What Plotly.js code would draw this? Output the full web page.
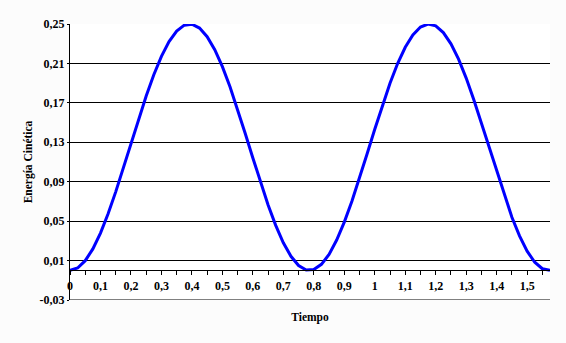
<!DOCTYPE html>
<html>
<head>
<meta charset="utf-8">
<script src="https://cdn.plot.ly/plotly-3.0.1.min.js"></script>
<style>html,body{margin:0;padding:0;background:#fcfcfc;}#chart{width:566px;height:343px;}</style>
</head>
<body>
<div id="chart"></div>
<script>
// Tiempo (s)
const tiempo = [0, 0.025, 0.05, 0.075, 0.1, 0.125, 0.15, 0.175, 0.2, 0.225, 0.25, 0.275, 0.3, 0.325, 0.35, 0.375,
  0.4, 0.425, 0.45, 0.475, 0.5, 0.525, 0.55, 0.575, 0.6, 0.625, 0.65, 0.675, 0.7, 0.725, 0.75, 0.775,
  0.8, 0.825, 0.85, 0.875, 0.9, 0.925, 0.95, 0.975, 1.0, 1.025, 1.05, 1.075, 1.1, 1.125, 1.15, 1.175,
  1.2, 1.225, 1.25, 1.275, 1.3, 1.325, 1.35, 1.375, 1.4, 1.425, 1.45, 1.475, 1.5, 1.525, 1.55, 1.575];
// Energía cinética
const energia = [0, 0.0025, 0.0099, 0.0218, 0.0379, 0.0575, 0.0797, 0.1038, 0.1287, 0.1534, 0.1770, 0.1986, 0.2172, 0.2321, 0.2428, 0.2488,
  0.2498, 0.2459, 0.2371, 0.2239, 0.2067, 0.1863, 0.1634, 0.1390, 0.1141, 0.0896, 0.0664, 0.0457, 0.0281, 0.0143, 0.0050, 0.0004,
  0.0009, 0.0062, 0.0163, 0.0308, 0.0490, 0.0702, 0.0936, 0.1183, 0.1432, 0.1674, 0.1899, 0.2099, 0.2264, 0.2389, 0.2469, 0.2500,
  0.2481, 0.2413, 0.2299, 0.2143, 0.1951, 0.1732, 0.1493, 0.1244, 0.0996, 0.0758, 0.0540, 0.0350, 0.0195, 0.0083, 0.0017, 0.0001];

const xTickVals = [0, 0.1, 0.2, 0.3, 0.4, 0.5, 0.6, 0.7, 0.8, 0.9, 1, 1.1, 1.2, 1.3, 1.4, 1.5];
const xTickText = ["0", "0,1", "0,2", "0,3", "0,4", "0,5", "0,6", "0,7", "0,8", "0,9", "1", "1,1", "1,2", "1,3", "1,4", "1,5"];
const yTickVals = [-0.03, 0.01, 0.05, 0.09, 0.13, 0.17, 0.21, 0.25];
const yTickText = ["-0,03", "0,01", "0,05", "0,09", "0,13", "0,17", "0,21", "0,25"];

const FAMILY = 'Liberation Serif, Times New Roman, serif';
const tickTxt = {family: FAMILY, size: 12, color: '#000000', weight: 'bold'};
const titleTxt = {family: FAMILY, size: 11.5, color: '#000000', weight: 'bold'};
const yMin = -0.03, yMax = 0.25;

const trace = {
  x: tiempo, y: energia, type: 'scatter', mode: 'lines',
  line: {color: '#0000ff', width: 3}, hoverinfo: 'skip'
};

const layout = {
  width: 566, height: 343,
  margin: {l: 70, r: 16, t: 24, b: 43},
  paper_bgcolor: '#fcfcfc', plot_bgcolor: '#ffffff',
  showlegend: false,
  font: tickTxt,
  xaxis: {
    range: [0, 1.575],
    anchor: 'free', position: (0 - yMin) / (yMax - yMin),
    showline: true, linecolor: '#000', linewidth: 1,
    showgrid: false, zeroline: false,
    tickmode: 'array', tickvals: xTickVals, ticktext: xTickText,
    ticks: 'outside', ticklen: 4, tickcolor: '#000', tickwidth: 1,
    minor: {dtick: 0.05, tick0: 0, ticks: 'outside', ticklen: 4, tickcolor: '#000', tickwidth: 1, showgrid: false},
    tickfont: tickTxt,
    title: {text: 'Tiempo', font: titleTxt, standoff: 21}
  },
  yaxis: {
    range: [yMin, yMax],
    showline: true, linecolor: '#000', linewidth: 1,
    showgrid: true, gridcolor: '#000', gridwidth: 1,
    zeroline: false,
    tickmode: 'array', tickvals: yTickVals, ticktext: yTickText,
    ticks: 'outside', ticklen: 2, tickcolor: '#000',
    tickfont: tickTxt,
    title: {text: 'Energía Cinética', font: titleTxt, standoff: 4}
  },
  shapes: [{
    type: 'line', xref: 'paper', yref: 'y', x0: 0, x1: 1, y0: yMin, y1: yMin,
    line: {color: '#000', width: 1}
  }]
};

Plotly.newPlot('chart', [trace], layout, {staticPlot: true, displayModeBar: false});
</script>
</body>
</html>
